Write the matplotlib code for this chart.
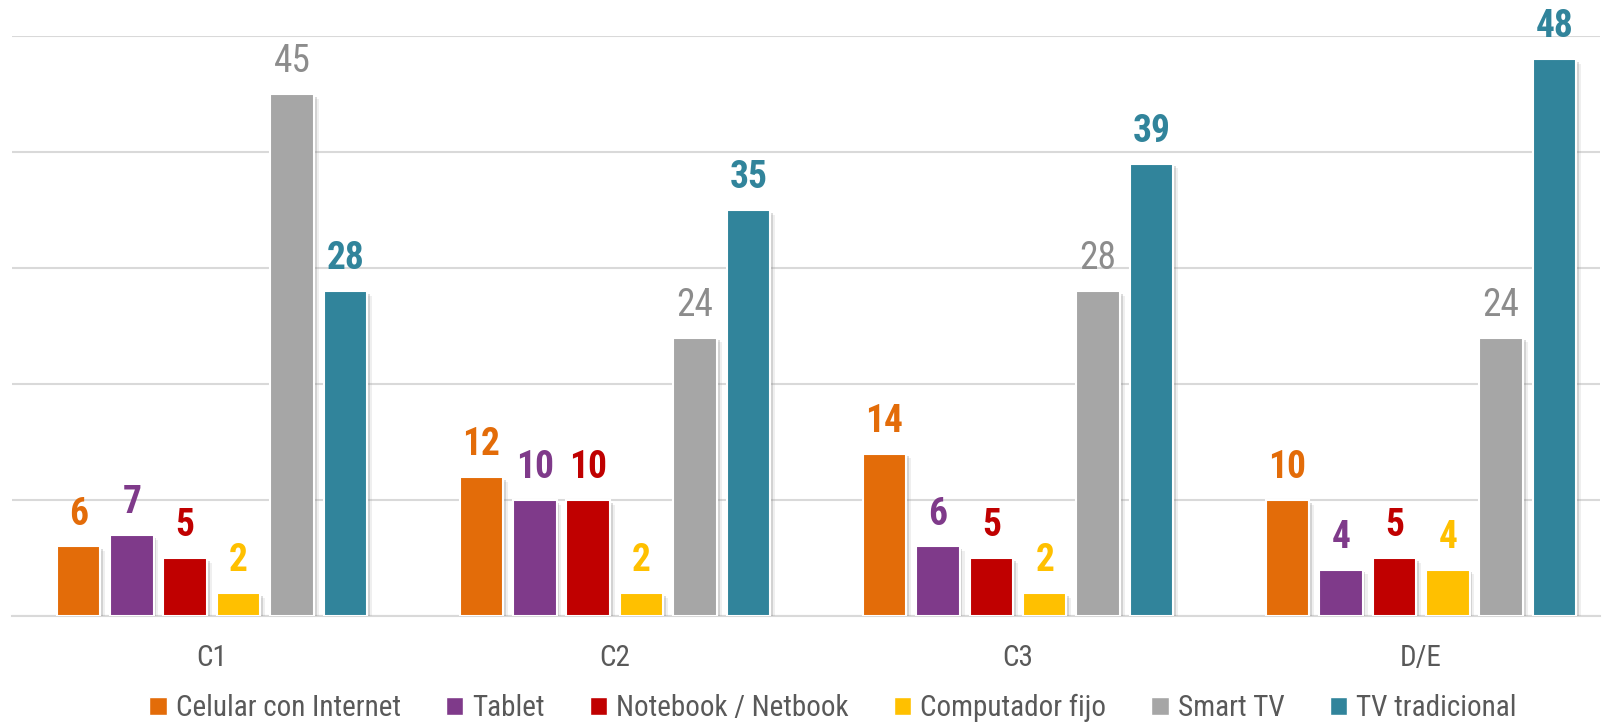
import numpy as np
import matplotlib
matplotlib.use("Agg")
import matplotlib.pyplot as plt
import matplotlib.patheffects as pe
from matplotlib.patches import Patch
from matplotlib import font_manager

categories = ["C1", "C2", "C3", "D/E"]
series = ["Celular con Internet", "Tablet", "Notebook / Netbook",
          "Computador fijo", "Smart TV", "TV tradicional"]
celular = [6, 12, 14, 10]
tablet = [7, 10, 6, 4]
notebook = [5, 10, 5, 5]
computador = [2, 2, 2, 4]
smart_tv = [45, 24, 28, 24]
tv_trad = [28, 35, 39, 48]
values = [celular, tablet, notebook, computador, smart_tv, tv_trad]

colors = ["#E36C09", "#7F3A8A", "#C00000", "#FFC000", "#A6A6A6", "#31849B"]
label_colors = ["#E36C09", "#7F3A8A", "#C00000", "#FFC000", "#8C8C8C", "#31849B"]

# look for a narrow face, else fall back to Liberation Sans
fonts = font_manager.fontManager.ttflist
names = {f.name for f in fonts}
font = "Liberation Sans"
stretch = "normal"
narrow = False
for cand in ["Liberation Sans Narrow", "Arial Narrow", "Roboto Condensed", "Open Sans Condensed"]:
    if cand in names:
        font, narrow = cand, True
        break
if not narrow and any(f.name == "DejaVu Sans" and f.stretch == "condensed" for f in fonts):
    font, stretch, narrow = "DejaVu Sans", "condensed", True
plt.rcParams['font.family'] = [font, 'DejaVu Sans']
plt.rcParams['font.stretch'] = stretch
k = 1.0 if narrow else 0.86

fig = plt.figure(figsize=(16.08, 7.27), dpi=100)
ax = fig.add_axes([12 / 1608, 1 - 616 / 727, (1600 - 12) / 1608, (616 - 36) / 727])

x = np.arange(len(categories))
step = 0.1325
width = 0.108
shadow = [pe.SimplePatchShadow(offset=(2, -2), shadow_rgbFace="#777777", alpha=0.25),
          pe.SimplePatchShadow(offset=(3.5, -3.5), shadow_rgbFace="#999999", alpha=0.15),
          pe.Normal()]

for i, (name, vals) in enumerate(zip(series, values)):
    pos = x + (i - 2.5) * step
    ax.bar(pos, vals, width, color=colors[i], edgecolor="white", linewidth=1.5,
           zorder=3, path_effects=shadow)
    for p, v in zip(pos, vals):
        ax.annotate(str(v), (p, v), xytext=(0, 10), textcoords="offset points",
                    ha="center", va="bottom", fontsize=27 * k,
                    fontweight="normal" if i == 4 else "bold",
                    color=label_colors[i], annotation_clip=False, zorder=5)

ax.set_ylim(0, 50)
ax.set_xlim(-0.496, 3.444)
ax.set_yticks(np.arange(0, 51, 10))
ax.yaxis.grid(True, color="#D9D9D9", linewidth=1.5, zorder=0)
ax.set_axisbelow(True)
ax.tick_params(axis="y", left=False, labelleft=False)
ax.tick_params(axis="x", length=0, pad=20, labelsize=21 * k, labelcolor="#595959")
ax.set_xticks(x)
ax.set_xticklabels(categories)
for s in ["top", "right", "left"]:
    ax.spines[s].set_visible(False)
ax.spines["bottom"].set_color("#D9D9D9")
ax.spines["bottom"].set_linewidth(1.5)

handles = [Patch(facecolor=c, edgecolor="white") for c in colors]
fig.legend(handles, series, loc="center", bbox_to_anchor=(0.518, 1 - 708 / 727), ncol=6,
           frameon=False, fontsize=21 * k, labelcolor="#595959", handlelength=0.6,
           handleheight=0.6, handletextpad=0.3, columnspacing=1.55 if narrow else 1.3)

fig.savefig("out.png", dpi=100)
